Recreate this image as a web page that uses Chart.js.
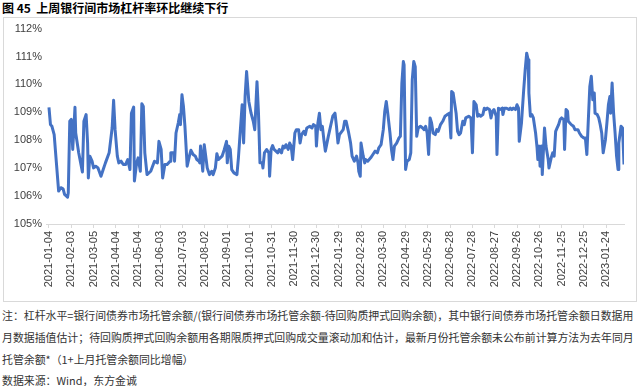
<!DOCTYPE html>
<html lang="zh">
<head>
<meta charset="UTF-8">
<title>上周银行间市场杠杆率环比继续下行</title>
<script src="https://cdn.jsdelivr.net/npm/chart.js@4.4.1/dist/chart.umd.min.js"></script>
<style>
    body {
        margin: 0;
        background: #fff;
        font-family: 'Noto Sans CJK SC', sans-serif;
        width: 640px;
        height: 386px;
        position: relative;
        overflow: hidden;
    }
    .title {
        position: absolute;
        left: 2px;
        top: 0;
        font-size: 12px;
        font-weight: bold;
        color: #000;
        line-height: 16px;
        white-space: pre;
    }
    .frame {
        position: absolute;
        left: 3px;
        top: 17px;
        width: 632px;
        height: 283px;
        border: 1px solid #d9d9d9;
    }
    .notes {
        position: absolute;
        left: 2px;
        top: 305px;
        font-size: 10.9px;
        line-height: 21.8px;
        color: #333;
        white-space: nowrap;
    }
</style>
</head>
<body>
<div class="title">图 45  上周银行间市场杠杆率环比继续下行</div>
<div class="frame"><canvas id="chart"></canvas></div>
<div class="notes">
    <div>注：杠杆水平=银行间债券市场托管余额/(银行间债券市场托管余额-待回购质押式回购余额)，其中银行间债券市场托管余额日数据用</div>
    <div>月数据插值估计；待回购质押式回购余额用各期限质押式回购成交量滚动加和估计，最新月份托管余额未公布前计算方法为去年同月</div>
    <div>托管余额*（1+上月托管余额同比增幅）</div>
    <div>数据来源：Wind，东方金诚</div>
</div>

<script>
// days since 2021-01-04
const days = [
    0,2,4,7,10,13,16,19,21,25,26,28,30,32,35,36,40,45,47,50,52,53,55,58,60,63,66,70,73,76,
    81,85,87,89,92,94,97,100,103,106,109,111,114,115,118,120,123,125,127,129,132,137,142,146,148,151,
    153,156,159,163,164,168,169,171,174,176,177,179,181,183,185,186,189,191,194,197,199,202,203,204,
    207,209,211,213,216,219,221,224,226,228,233,236,239,240,242,244,246,249,253,255,257,260,262,264,
    266,269,272,275,277,280,282,284,287,288,290,293,296,297,299,301,303,308,
    310,313,315,317,319,322,324,326,328,331,333,336,338,340,343,345,347,351,354,356,359,360,362,364,
    366,368,370,372,376,379,382,385,387,389,391,396,398,400,403,406,408,411,414,416,417,419,420,423,
    425,426,429,433,436,439,442,444,447,450,452,454,456,459,461,463,
    465,468,471,473,475,477,478,480,482,485,487,489,491,493,495,497,500,503,505,507,509,511,513,515,
    517,520,522,524,527,530,533,536,539,541,542,544,546,548,550,552,554,557,559,561,565,568,570,572,
    575,577,579,581,584,586,588,590,593,595,597,599,602,603,605,607,610,611,613,616,619,
    621,623,625,628,630,632,633,636,639,641,643,645,646,648,650,652,655,657,658,660,661,663,664,667,
    669,672,673,676,678,680,682,684,686,688,690,693,694,696,698,699,703,706,708,712,714,717,720,722,
    724,726,728,730,732,734,735,738,740,742,744,746,749,751,753,755,756,758,760,762,764,766,767,770,
    772,774
];

// leverage level, %
const leverage = [
    109.18,108.56,108.50,108.20,107.19,106.18,106.30,106.26,106.06,105.96,
    106.12,108.68,108.75,107.67,109.18,108.26,107.55,106.86,108.68,108.92,
    107.90,106.65,107.43,107.25,107.01,107.07,107.01,106.71,106.95,107.19,
    107.55,108.44,109.43,108.38,107.43,107.19,107.25,107.13,107.13,107.31,
    106.95,108.97,109.19,106.54,107.19,107.37,106.89,109.31,109.21,107.55,
    106.77,106.89,107.25,107.19,107.96,107.67,
    106.65,107.13,107.13,107.25,107.55,107.55,107.25,108.26,108.62,108.92,
    108.56,109.63,109.21,108.50,107.55,107.07,107.43,107.64,107.49,107.43,
    107.31,107.25,107.19,107.79,106.89,107.84,107.43,107.01,106.77,106.89,
    106.77,107.01,107.52,107.31,107.43,107.67,107.96,107.19,107.79,107.67,
    106.95,106.83,106.77,107.37,108.14,109.27,107.90,109.57,110.46,109.39,
    108.97,108.68,108.38,110.10,108.97,107.19,107.19,107.01,107.55,107.67,
    107.55,106.71,107.67,107.81,107.67,107.55,
    107.67,107.55,107.79,107.73,107.84,107.67,107.90,107.79,107.31,108.26,
    108.38,108.38,107.90,108.20,108.32,108.20,108.44,108.50,108.44,108.56,
    108.50,107.79,108.62,108.97,108.38,108.50,108.02,107.61,108.14,108.50,
    108.86,108.97,108.50,107.90,108.20,108.38,108.68,108.68,108.32,107.90,
    107.43,107.25,107.43,107.19,106.89,106.71,107.90,107.43,107.19,107.31,
    107.25,107.37,107.49,107.61,107.55,107.73,107.84,108.38,109.04,109.39,
    108.97,108.26,107.67,107.31,
    107.79,107.90,108.08,108.14,110.05,110.82,110.70,106.95,107.25,107.31,
    107.55,110.17,110.82,110.64,108.14,108.44,108.50,108.44,108.38,108.50,
    108.26,107.49,108.80,108.62,108.26,108.20,108.38,108.32,108.56,108.68,
    108.86,108.92,108.97,108.08,109.75,109.69,109.33,108.97,108.32,108.20,
    108.26,108.68,108.56,108.80,108.86,108.80,107.55,109.39,109.27,108.86,
    108.92,108.86,108.92,109.15,109.10,109.15,109.10,108.80,109.04,109.10,
    108.86,107.49,109.15,109.10,109.15,108.92,109.15,109.15,109.10,
    109.15,109.10,109.15,109.10,109.27,109.15,107.96,108.62,109.81,110.52,
    111.12,110.88,109.69,108.86,108.92,108.80,108.26,107.73,107.31,107.79,
    107.07,107.79,106.77,108.44,107.79,107.31,107.01,107.37,107.55,107.43,
    108.32,108.44,108.56,108.74,108.80,108.74,107.67,109.10,109.04,108.68,
    108.56,108.50,108.38,108.38,108.26,108.14,108.08,108.08,107.49,108.74,
    109.93,110.29,109.45,109.69,108.97,108.92,108.80,108.56,108.26,107.55,
    108.02,108.62,109.27,109.57,108.97,110.05,108.97,108.26,107.43,106.95,
    107.90,108.50,108.44,107.13
];

const tickLabels = [
    '2021-01-04','2021-02-03','2021-03-05','2021-04-04','2021-05-04','2021-06-03',
    '2021-07-03','2021-08-02','2021-09-01','2021-10-01','2021-10-31','2021-11-30',
    '2021-12-30','2022-01-29','2022-02-28','2022-03-30','2022-04-29','2022-05-29',
    '2022-06-28','2022-07-28','2022-08-27','2022-09-26','2022-10-26','2022-11-25',
    '2022-12-25','2023-01-24'
];
// tick every 30 days
const tickDays = tickLabels.map((_, i) => i * 30);

const points = days.map((d, i) => ({ x: d, y: leverage[i] }));

const axisFont = { family: "'Liberation Sans', Arial, sans-serif", size: 11 };

new Chart(document.getElementById('chart'), {
    type: 'line',
    data: {
        datasets: [{
            data: points,
            borderColor: '#4472C4',
            borderWidth: 3,
            pointRadius: 0,
            tension: 0,
            borderJoinStyle: 'round'
        }]
    },
    options: {
        responsive: true,
        maintainAspectRatio: false,
        animation: false,
        layout: { padding: { left: 4, top: 9, right: 12, bottom: 0 } },
        plugins: {
            legend: { display: false },
            tooltip: { enabled: false }
        },
        scales: {
            x: {
                type: 'linear',
                min: -4,
                max: 774,
                afterBuildTicks: axis => {
                    axis.ticks = tickDays.map(v => ({ value: v }));
                },
                afterFit: axis => { axis.height = 77; },
                grid: {
                    drawOnChartArea: false,
                    drawTicks: true,
                    tickLength: 4,
                    color: '#d9d9d9'
                },
                border: { color: '#d9d9d9', width: 1 },
                ticks: {
                    autoSkip: false,
                    maxRotation: 90,
                    minRotation: 90,
                    padding: 3,
                    color: '#404040',
                    font: axisFont,
                    callback: (value, index) => tickLabels[index]
                }
            },
            y: {
                min: 105,
                max: 112,
                afterFit: axis => { axis.width = 38; },
                grid: { display: false, drawTicks: false },
                border: { display: false },
                ticks: {
                    stepSize: 1,
                    padding: 4,
                    color: '#404040',
                    font: axisFont,
                    callback: v => v + '%'
                }
            }
        }
    }
});
</script>
</body>
</html>
